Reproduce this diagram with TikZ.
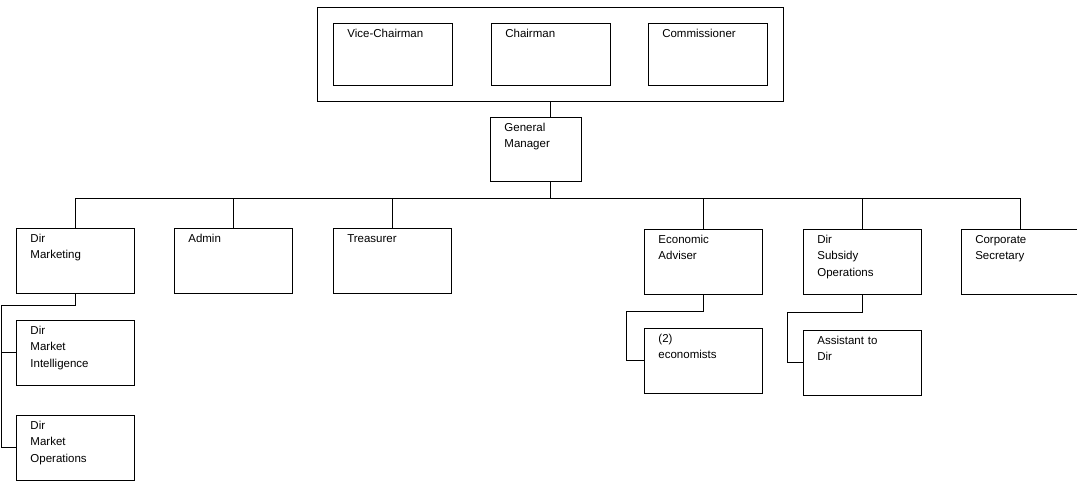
\documentclass[tikz,border=0pt]{standalone}
\usepackage{fontspec}
\setmainfont{Liberation Sans}
\usetikzlibrary{positioning, fit, calc}

\tikzset{
    orgbox/.style={draw, line width=0.9pt, anchor=north west,
        inner xsep=14pt, inner ysep=5pt,
        text width=90pt, text height=9pt, text depth=46pt, align=left,
        font=\fontsize{11.5}{16.5}\selectfont},
    boardbox/.style={orgbox, text width=91pt, text depth=43pt},
    link/.style={line width=0.9pt},
}

\begin{document}
\begin{tikzpicture}[x=1pt, y=-1pt]

    \useasboundingbox (0,0) rectangle (1077,482);

    % board
    \node[boardbox] (vicechair) at (333,23) {Vice-Chairman};
    \node[boardbox, right=38pt of vicechair] (chairman) {Chairman};
    \node[boardbox, right=37pt of chairman] (commissioner) {Commissioner};
    \node[draw, link, fit=(vicechair)(chairman)(commissioner), inner sep=16pt] (board) {};

    % ----------

    \node[orgbox, text width=63pt, text depth=45pt] (genmgr) at (490,117) {
    General\\
    Manager
    };

    % ----------

    \node[orgbox] (dirmkt) at (16,228) {
    Dir\\
    Marketing
    };
    \node[orgbox, right=39pt of dirmkt] (admin) {Admin};
    \node[orgbox, right=40pt of admin] (treasurer) {Treasurer};

    \node[orgbox] (econadv) at (644,229) {
    Economic\\
    Adviser
    };
    \node[orgbox, right=40pt of econadv] (subsidy) {
    Dir\\
    Subsidy\\
    Operations
    };
    \node[orgbox, right=39pt of subsidy] (corpsec) {
    Corporate\\
    Secretary
    };

    % ----------

    \node[orgbox, below=26pt of dirmkt] (mktint) {
    Dir\\
    Market\\
    Intelligence
    };
    \node[orgbox, below=29pt of mktint] (mktops) {
    Dir\\
    Market\\
    Operations
    };

    \node[orgbox, below=33pt of econadv] (economists) {
    (2)\\
    economists
    };
    \node[orgbox, below=35pt of subsidy] (assistant) {
    Assistant to\\
    Dir
    };

    % connectors
    \path (board.south) ++(0,96) coordinate (bus);
    \draw[link] (board.south) -- (board.south |- genmgr.north);
    \draw[link] (board.south |- genmgr.south) -- (bus);
    \draw[link] (dirmkt.north) |- (corpsec.north |- bus) -- (corpsec.north);
    \foreach \n in {admin, treasurer, econadv, subsidy}
        \draw[link] (\n.north) -- (\n.north |- bus);

    \draw[link] (dirmkt.south) -- ++(0,12) -| ([xshift=-15pt]mktops.west) -- (mktops.west);
    \draw[link] ([xshift=-15pt]mktint.west) -- (mktint.west);
    \draw[link] (econadv.south) -- ++(0,17) -| ([xshift=-18pt]economists.west) -- (economists.west);
    \draw[link] (subsidy.south) -- ++(0,18) -| ([xshift=-15pt]assistant.west) -- (assistant.west);

\end{tikzpicture}
\end{document}
